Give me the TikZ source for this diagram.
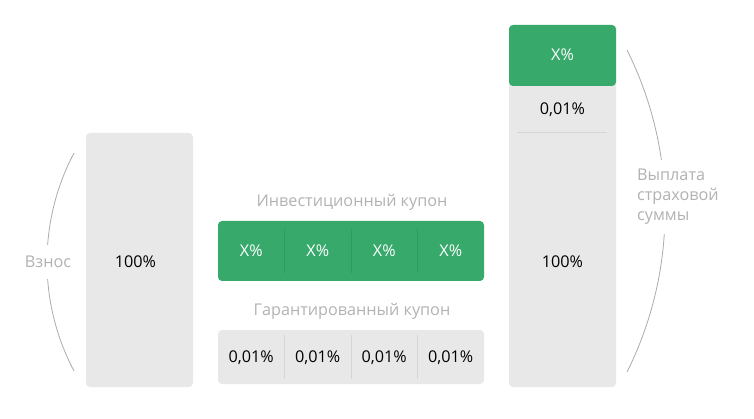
\documentclass[tikz,border=0pt]{standalone}
\usepackage{fontspec}
\setmainfont{Open Sans}
\usepackage{tikz}
\usetikzlibrary{positioning}
\definecolor{kupgreen}{HTML}{36A96B}
\definecolor{kupgreenline}{HTML}{2F9960}
\definecolor{boxgray}{HTML}{E8E8E8}
\definecolor{boxline}{HTML}{D6D6D6}
\definecolor{labelgray}{HTML}{B2B2B2}
\definecolor{bracegray}{HTML}{ABABAB}
\tikzset{
  graybox/.style={fill=boxgray, rounded corners=4pt, inner sep=0pt},
  greenbox/.style={fill=kupgreen, rounded corners=4pt, inner sep=0pt},
  valtext/.style={font=\fontsize{16.2}{20}\selectfont, text=black, text depth=0pt},
  greentext/.style={font=\fontsize{16.2}{20}\selectfont, text=white, text depth=0pt},
  caption/.style={font=\fontsize{16.2}{20}\selectfont, text=labelgray},
  cell/.style={minimum width=66.5pt, inner sep=0pt},
  brace/.style={draw=bracegray, line width=0.8pt},
}

\begin{document}
\begin{tikzpicture}[x=1pt,y=-1pt]
    \useasboundingbox (0,0) rectangle (754,419);
    % left column
    \node[graybox, minimum width=107pt, minimum height=254pt] (vznosbox) at (139.5,260) {};
    \node[valtext] (vznosval) at (135.5,262) {100\%};
    \coordinate (vtop) at (74,153);
    \coordinate (vbot) at (74,371);
    \draw[brace] (vtop) .. controls (38,221) and (38,303) .. (vbot);
    \node[caption, fill=white, inner ysep=11pt, inner xsep=1pt] (vznos) at (48,262) {Взнос};
    % coupons
    \node[caption] (invlabel) at (352,202) {Инвестиционный купон};
    \node[greenbox, minimum width=266pt, minimum height=60pt] (invbar) at (351,251) {};
    \foreach \i in {1,...,4}
      \node[greentext, cell, minimum height=44pt] (inv\i) at ({218+66.5*(\i-0.5)},251) {X\%};
    \foreach \i in {1,2,3}
      \draw[kupgreenline, line width=0.6pt] (inv\i.north east) -- (inv\i.south east);
    \node[caption] (garlabel) at (352,311) {Гарантированный купон};
    \node[graybox, minimum width=266pt, minimum height=54pt] (garbar) at (351,357) {};
    \foreach \i in {1,...,4}
      \node[valtext, cell, minimum height=44pt] (gar\i) at ({218+66.5*(\i-0.5)},357) {0,01\%};
    \foreach \i in {1,2,3}
      \draw[boxline, line width=0.6pt] (gar\i.north east) -- (gar\i.south east);
    % right column
    \node[graybox, minimum width=107pt, minimum height=362pt] (vyplbox) at (562.5,206) {};
    \node[greenbox, minimum width=107pt, minimum height=61pt] (vyplx) at (562.5,55.5) {};
    \node[greentext] (vyplxval) at (562.5,55) {X\%};
    \node[valtext] (vyplgar) at (562.5,109) {0,01\%};
    \coordinate (sepl) at (517,132);
    \coordinate (sepr) at (607,132);
    \draw[boxline, line width=0.6pt] (sepl) -- (sepr);
    \node[valtext] (vyplval) at (562.5,262) {100\%};
    \coordinate (ptop) at (627,50);
    \coordinate (pbot) at (627,372);
    \draw[brace] (ptop) .. controls (677.7,151.5) and (677.7,270.5) .. (pbot);
    \node[caption, fill=white, align=left, anchor=west, inner ysep=9pt, inner xsep=1pt] (vypl) at (636,197) {Выплата\\страховой\\суммы};
  \end{tikzpicture}
\end{document}
